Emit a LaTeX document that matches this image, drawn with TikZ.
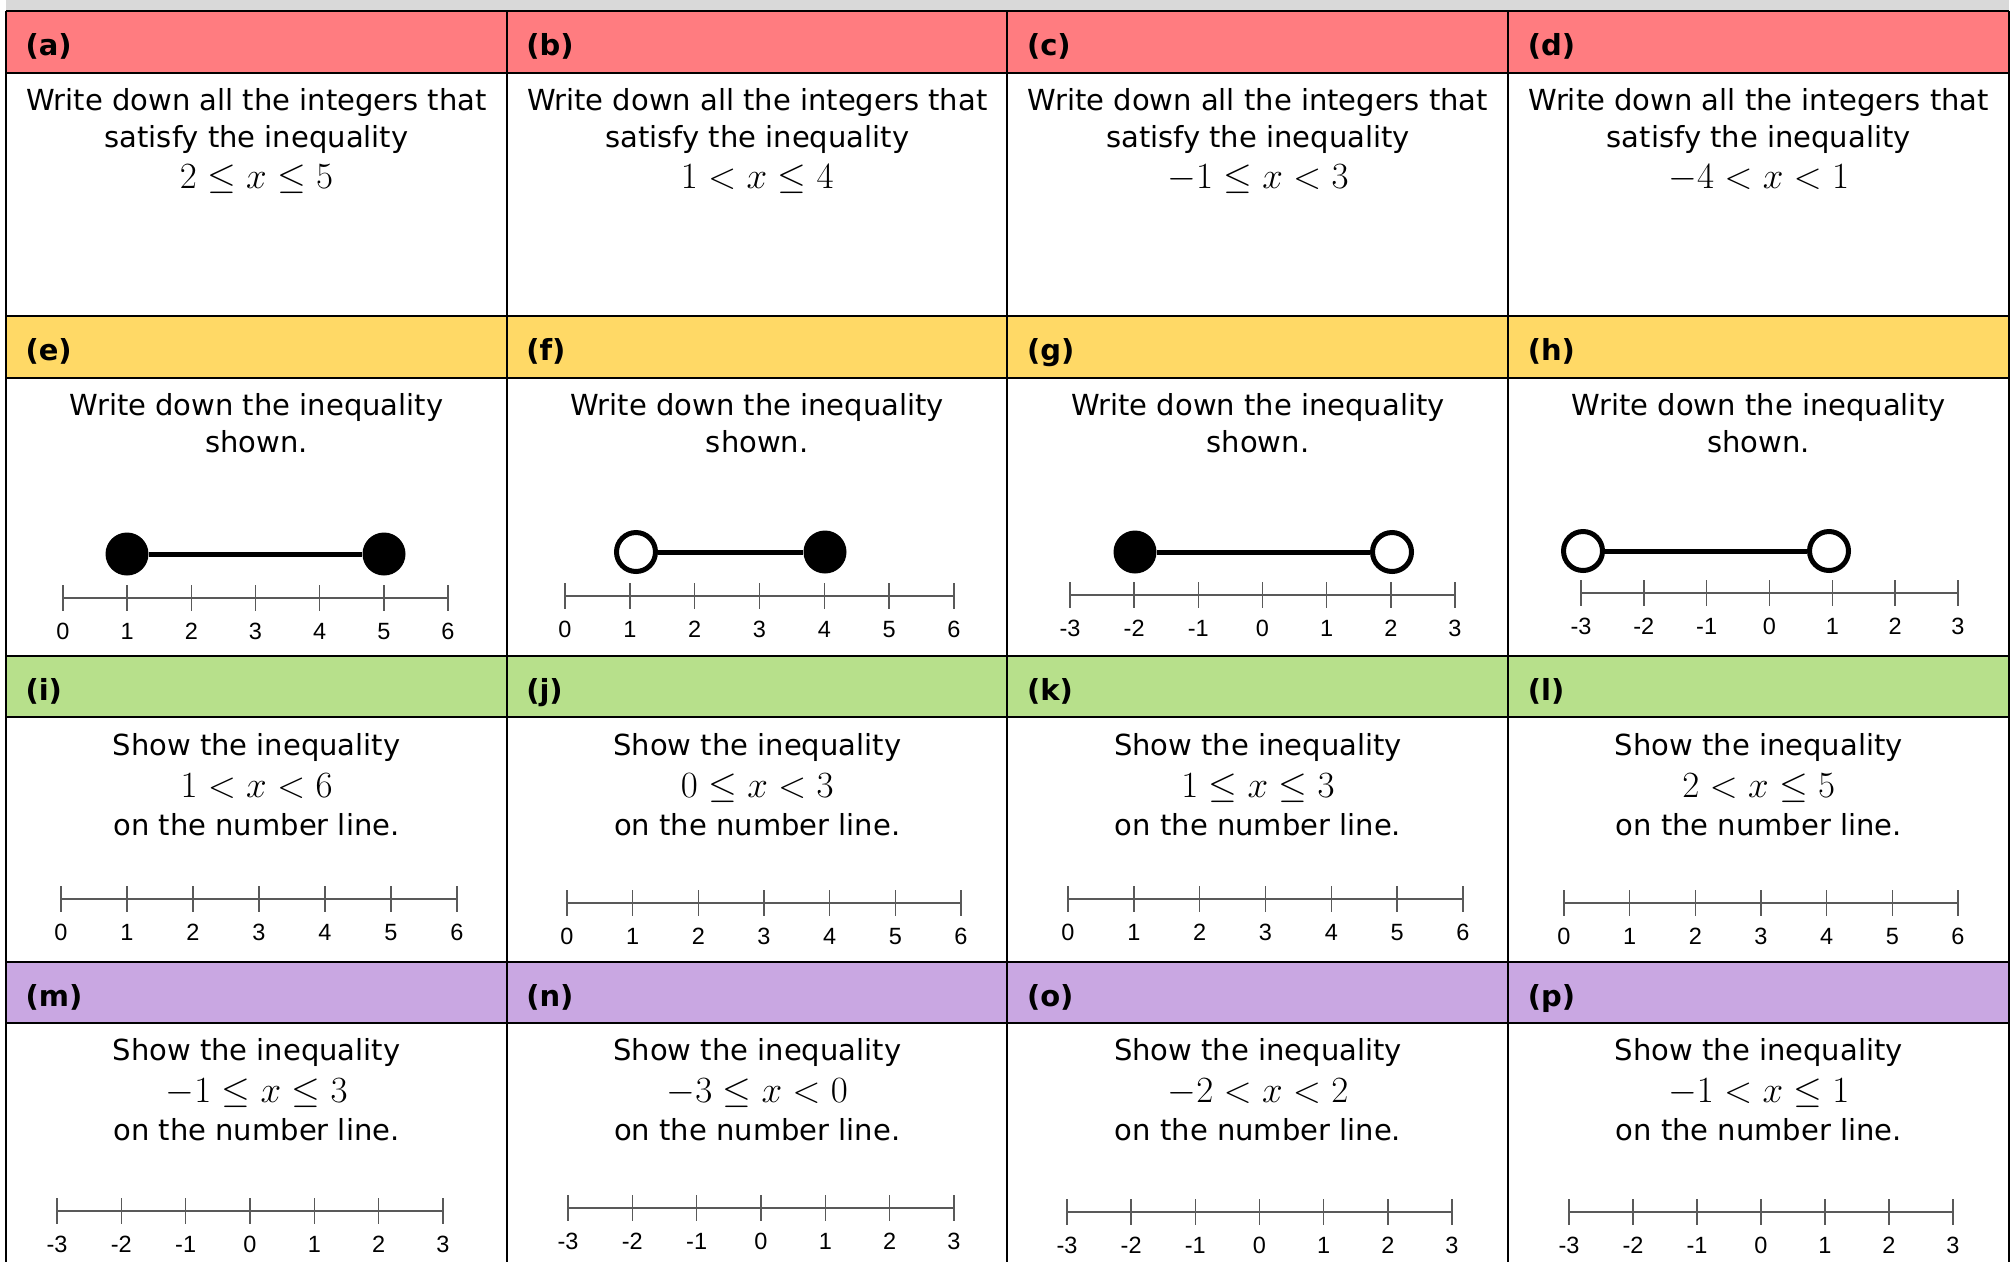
\documentclass[tikz,border=0pt]{standalone}
\usepackage{fix-cm}
\usepackage{amssymb}
\usepackage{amsmath}
\usepackage[no-math]{fontspec}
\setmainfont{DejaVu Sans}
\newfontfamily\axisfont{Liberation Sans}
\usepackage{tikz}

\definecolor{rowred}{HTML}{FF7C80}
\definecolor{rowyellow}{HTML}{FFD966}
\definecolor{rowgreen}{HTML}{B7E08B}
\definecolor{rowpurple}{HTML}{C9A7E2}
\definecolor{topgray}{HTML}{D9D9D9}

\tikzset{
  part/.style={anchor=base west, font=\fontsize{29}{35}\selectfont\bfseries},
  words/.style={anchor=base, font=\fontsize{29}{35}\selectfont},
  ineq/.style={anchor=base, font=\fontsize{37}{40}\selectfont},
  axisline/.style={draw=black!65, line width=2pt},
  tickmark/.style={draw=black!65, line width=1.5pt},
  axislabel/.style={anchor=base, font=\fontsize{23.5}{25}\selectfont\axisfont},
  closeddot/.style={circle, fill=black, inner sep=0pt, minimum size=43pt},
  opendot/.style={circle, draw=black, fill=white, line width=5pt, inner sep=0pt, minimum size=39pt},
  rangebar/.style={line width=5pt},
  gridline/.style={line width=2pt}
}

\begin{document}
\begin{tikzpicture}[x=1pt,y=-1pt]
\useasboundingbox (0,0) rectangle (2015,1262);
\fill[topgray] (6,0) rectangle (2009,11);
\fill[rowred] (6,11) rectangle (2009,73);
\fill[rowyellow] (6,316) rectangle (2009,378);
\fill[rowgreen] (6,656) rectangle (2009,717);
\fill[rowpurple] (6,962) rectangle (2009,1023);
\foreach \y in {11,73,316,378,656,717,962,1023}
  \draw[gridline] (6,\y) -- (2009,\y);
\foreach \x in {6,507,1007,1508,2009}
  \draw[gridline] (\x,11) -- (\x,1262);

\foreach \ytop/\letters in {11/{a,b,c,d},316/{e,f,g,h},656/{i,j,k,l},962/{m,n,o,p}}
  \foreach \lab [count=\c from 0] in \letters
    \node[part] (hd\lab) at (22+500.75*\c,\ytop+44) {(\lab)};

\foreach \ineqtext [count=\c from 0] in {{2\le x\le 5},{1<x\le 4},{-1\le x<3},{-4<x<1}}{
  \node[words] (wa\c) at (256.5+500.75*\c,110) {Write down all the integers that};
  \node[words] (wb\c) at (256.5+500.75*\c,147) {satisfy the inequality};
  \node[ineq] (wc\c) at (256.5+500.75*\c,188) {$\ineqtext$};
}
\foreach \c in {0,1,2,3}{
  \node[words] (sa\c) at (256.5+500.75*\c,415) {Write down the inequality};
  \node[words] (sb\c) at (256.5+500.75*\c,452) {shown.};
}
\foreach \ineqtext/\ybase [count=\c from 0] in {{1<x<6}/755,{0\le x<3}/755,{1\le x\le 3}/755,{2<x\le 5}/755,
    {-1\le x\le 3}/1060,{-3\le x<0}/1060,{-2<x<2}/1060,{-1<x\le 1}/1060}{
  \pgfmathsetmacro\cx{256.5+500.75*mod(\c,4)}
  \node[words] (ta\c) at (\cx,\ybase) {Show the inequality};
  \node[ineq] (tb\c) at (\cx,\ybase+42) {$\ineqtext$};
  \node[words] (tc\c) at (\cx,\ybase+80) {on the number line.};
}

\foreach \xa/\xb/\y/\lo in {63/448/598/0,565/954/596/0,1070/1455/595/-3,1581/1958/593/-3,
    61/457/899/0,567/961/903/0,1068/1463/899/0,1564/1958/903/0,
    57/443/1211/-3,568/954/1208/-3,1067/1452/1212/-3,1569/1953/1212/-3}{
  \draw[axisline] (\xa,\y) -- (\xb,\y);
  \foreach \k in {0,...,6}{
    \pgfmathsetmacro\xt{\xa+\k*(\xb-\xa)/6}
    \pgfmathtruncatemacro\num{\lo+\k}
    \draw[tickmark] (\xt,\y-13) -- (\xt,\y+13);
    \node[axislabel] (lb\xa-\k) at (\xt,\y+41) {\num};
  }
}

\node[closeddot] (e1) at (127,554) {};
\node[closeddot] (e2) at (384,554) {};
\draw[rangebar] (e1) -- (e2);
\node[opendot] (f1) at (636,552) {};
\node[closeddot] (f2) at (825,552) {};
\draw[rangebar] (f1) -- (f2);
\node[closeddot] (g1) at (1135,552) {};
\node[opendot] (g2) at (1392,552) {};
\draw[rangebar] (g1) -- (g2);
\node[opendot] (h1) at (1583,551) {};
\node[opendot] (h2) at (1829,551) {};
\draw[rangebar] (h1) -- (h2);
\end{tikzpicture}
\end{document}
